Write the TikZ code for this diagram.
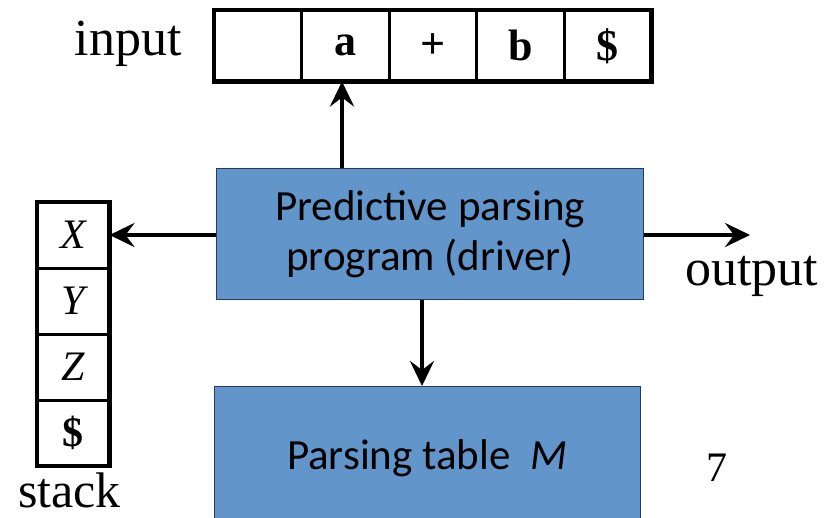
\documentclass[tikz,border=0pt]{standalone}
\usepackage{fontspec}
\setmainfont{Liberation Serif}
\newfontfamily\calibri{Carlito}
\usetikzlibrary{arrows.meta}
\definecolor{boxblue}{RGB}{98,150,202}
\definecolor{boxedge}{RGB}{40,60,90}
\tikzset{
  x=1pt, y=-1pt,
  cell/.style={draw, line width=1.5pt, minimum width=86pt, minimum height=70pt,
    inner sep=0pt, font=\fontsize{44}{48}\selectfont\bfseries},
  scell/.style={draw, line width=1.5pt, minimum width=71pt, minimum height=64.5pt,
    inner sep=0pt, font=\fontsize{42}{44}\selectfont},
  frame/.style={line width=4.5pt},
  block/.style={draw=boxedge, line width=1.2pt, fill=boxblue, inner sep=0pt,
    font=\calibri\fontsize{43}{50}\selectfont, align=center},
  flow/.style={line width=4pt, -{Stealth[length=25pt,width=24pt,inset=9pt]}},
  label/.style={font=\fontsize{52}{52}\selectfont, inner sep=0pt}
}
\begin{document}
\begin{tikzpicture}
\useasboundingbox (0,0) rectangle (827,517);
% input tape
\node[cell, anchor=north west] (t1) at (214,10) {};
\node[cell, anchor=west] (t2) at (t1.east) {a};
\node[cell, anchor=west] (t3) at (t2.east) {+};
\node[cell, anchor=west] (t4) at (t3.east) {b};
\node[cell, anchor=west] (t5) at (t4.east) {\$};
\draw[frame] (t1.north west) rectangle (t5.south east);
\node[label, anchor=base east] (inp) at (182,55) {input};
% stack
\node[scell, anchor=north west] (s1) at (37,202) {\itshape X};
\node[scell, anchor=north] (s2) at (s1.south) {\itshape Y};
\node[scell, anchor=north] (s3) at (s2.south) {\itshape Z};
\node[scell, anchor=north] (s4) at (s3.south) {\bfseries\$};
\draw[frame] (s1.north west) rectangle (s4.south east);
\node[label, font=\fontsize{50}{50}\selectfont, anchor=base west] (stk) at (18,507) {stack};
% driver and table
\node[block, minimum width=427pt, minimum height=131pt, anchor=north west] (prog) at (216,168)
  {Predictive parsing\\program (driver)};
\node[block, minimum width=426pt, minimum height=160pt, anchor=north west] (tab) at (214,386) {};
\node[font=\calibri\fontsize{43}{48}\selectfont, inner sep=0pt] (tabtxt) at (427,458)
  {Parsing table\ \ \textit{M}};
\coordinate (outend) at (750,235);
\node[label, anchor=base west] (outp) at (685,285) {output};
\node[font=\fontsize{42}{42}\selectfont, inner sep=0pt] (pg) at (717,468) {7};
% connectors
\draw[flow] (prog.north -| 342,0) -- (t1.south -| 342,0);
\draw[flow] (prog.west |- s1.east) -- (s1.east);
\draw[flow] (prog.east |- outend) -- (outend);
\draw[flow] (prog.south -| 422,0) -- (tab.north -| 422,0);
\end{tikzpicture}
\end{document}
